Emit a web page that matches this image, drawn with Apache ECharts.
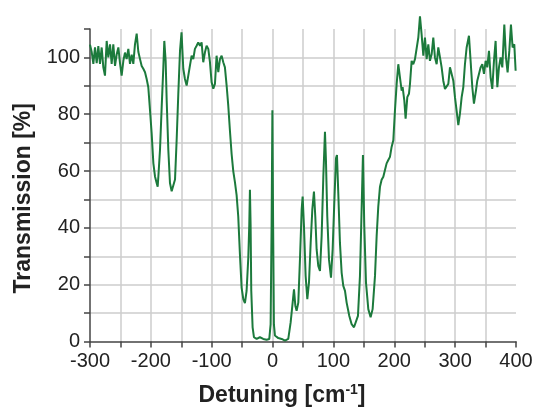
<!DOCTYPE html>
<html>
<head>
<meta charset="utf-8">
<script src="https://cdn.jsdelivr.net/npm/echarts@6/dist/echarts.min.js"></script>
<style>
html, body { margin: 0; padding: 0; background: #fff; }
#chart { width: 536px; height: 412px; }
</style>
</head>
<body>
<div id="chart"></div>
<script>
// detuning in cm^-1
var detuning = [
	-300, -297.3, -294.5, -291.8, -289, -286.3, -283.6, -280.8, -278.1, -275.4,
	-272.6, -269.9, -267.1, -264.4, -261.7, -258.9, -256.2, -253.4, -250.7, -248,
	-245.2, -242.5, -239.8, -237, -234.3, -231.5, -228.8, -226.1, -223.3, -220.6,
	-217.8, -215.1, -212.4, -209.6, -206.9, -204.2, -201.4, -198.7, -195.9, -193.2,
	-190.5, -188.8, -187.7, -185, -182.2, -179.5, -177.9, -175.7, -174, -171.3,
	-168.6, -165.8, -163.1, -160.3, -157.6, -154.9, -152.1, -149.6, -146.7, -144,
	-141.2, -138.5, -135.8, -133, -130.3, -127.6, -124.8, -122.1, -119.3, -116.6,
	-113.9, -111.1, -108.4, -105.6, -102.9, -100.2, -97.4, -94.7, -92, -89.2,
	-86.5, -83.7, -81, -78.3, -75.5, -72.8, -70, -67.3, -64.6, -61.8,
	-59.1, -56.4, -53.6, -50.9, -48.1, -45.4, -42.7, -39.9, -38.3, -37.2,
	-36.1, -35, -32.8, -30.6, -26.2, -20.8, -15.3, -9.8, -5.4, -3.2,
	-1.6, -0.3, 0.9, 2.2, 3.9, 9.4, 14.9, 20.4, 25.8, 29.7,
	33, 35.2, 37.4, 39.5, 42.3, 45, 47.8, 49.4, 51.6, 54.3,
	57.1, 59.8, 62.6, 65.3, 68, 70.2, 72.4, 75.1, 77.9, 80.6,
	83.4, 86.1, 87.7, 89.9, 92.7, 96, 98.7, 101.4, 104.2, 105.8,
	108, 110.7, 113.5, 116.2, 119, 121.7, 126.1, 129.9, 133.8, 137,
	140.3, 143.6, 146.3, 148.5, 150.7, 153.5, 157.3, 161.1, 164.4, 168.3,
	171, 173.7, 176.5, 179.2, 182, 184.7, 187.4, 190.2, 192.9, 195.6,
	198.4, 201.1, 203.9, 206.6, 209.3, 212.1, 213.7, 216.5, 218.6, 221.4,
	224.1, 225.8, 228.5, 231.2, 234, 236.7, 239.5, 242.2, 244.9, 247.7,
	250.4, 253.2, 255.9, 258.6, 261.4, 264.1, 266.8, 269.6, 272.3, 275.1,
	277.8, 280.5, 283.3, 286, 288.8, 291.5, 294.2, 297, 299.7, 302.4,
	305.2, 307.9, 310.7, 313.4, 316.1, 318.9, 322.7, 325.4, 328.2, 330.9,
	334.2, 336.4, 339.1, 341.9, 344.6, 347.4, 350.1, 352.8, 355.6, 358.3,
	361, 363.8, 366.5, 369.3, 372, 374.7, 377.5, 380.8, 383.5, 386.2,
	389, 391.7, 394.4, 397.2, 399.4
];
// transmission in %
var transmission = [
	104.5, 102, 97.7, 103.5, 98, 104, 97.7, 103.5, 96.5, 93.6,
	105.8, 100, 104.6, 97.7, 104.6, 97, 101, 103.5, 98, 93.6,
	98.8, 101.7, 99.4, 103, 97.7, 101, 97.7, 104.6, 108.4, 102,
	99.4, 97, 96, 94.8, 92.4, 89.5, 81.4, 73.3, 62.8, 58.1,
	55.8, 54.5, 58, 67.4, 82.6, 96.5, 105.8, 98.8, 84.9, 67.4,
	55.8, 52.9, 52.9, 57, 71, 87.2, 102.3, 108.8, 96, 92.4,
	90.1, 93.6, 97.1, 100.6, 99.4, 103, 104.1, 105.3, 104.1, 105.3,
	98.3, 101.8, 104.1, 103, 98.3, 91.3, 89, 90.7, 100.6, 94.8,
	99.4, 100.6, 98.3, 96.5, 90.1, 83, 74, 66, 60, 56,
	51.5, 44, 30.5, 19, 14.9, 13.5, 17.8, 29.5, 41, 53.4,
	41, 17.8, 5, 1.5, 0.9, 1.5, 0.9, 0.6, 0.9, 6,
	41, 81.4, 41, 6, 2.1, 1.2, 0.9, 0.3, 0.9, 6.7,
	13.7, 18.4, 12.6, 10.8, 13.7, 28.9, 46.4, 51, 40.6, 23.1,
	14.9, 20.7, 34.7, 46.4, 52.8, 44, 32.4, 26.6, 24.8, 37,
	58, 73.8, 63.9, 44, 28.9, 22.5, 32.4, 48.7, 64.5, 65.6,
	52.2, 34.7, 24.2, 19.6, 17.8, 13.7, 9, 6.1, 5, 5.6,
	9, 23.1, 46.4, 65.6, 40.6, 20.7, 11.4, 8.5, 11.4, 23.1,
	37, 47.5, 54.5, 56.9, 58, 60.4, 62.7, 63.9, 65, 68.5,
	70.8, 81.3, 90.7, 97.6, 93, 88.3, 89.5, 84.8, 78.4, 86,
	87.2, 90.7, 98.8, 97.6, 99.4, 98.8, 107, 114.5, 108.1, 100.6,
	107, 99.4, 104.6, 98.8, 101.1, 107, 100, 97.6, 103.5, 100,
	96.5, 91.8, 88.9, 88.3, 90.7, 96.5, 97, 91.8, 86, 81.3,
	76.2, 80.2, 86, 89.5, 97.6, 103.5, 107.6, 98.8, 89.5, 83.7,
	88.3, 91.8, 92.4, 96.5, 97.6, 94.2, 98.8, 96.5, 102.3, 93,
	88.9, 98.8, 105.8, 89.5, 96.5, 100, 96.5, 111.6, 100, 94.7,
	102.3, 111.6, 103.5, 104.6, 95.3
];

var xTicks = { min: -300, max: 400, step: 50, labelStep: 100 };
var yTicks = { min: 0, max: 110, step: 10, labelStep: 20 };

var points = [];
for (var i = 0; i < detuning.length; i++) {
	points.push([detuning[i], transmission[i]]);
}

var chart = echarts.init(document.getElementById('chart'));
var labelStyle = {
	fontFamily: 'Liberation Sans',
	fontSize: 20,
	color: '#222'
};
var gridLine = { show: true, showMaxLine: false, showMinLine: false, lineStyle: { color: '#cccccc', width: 1.5 } };
var axisLine = { show: true, onZero: false, lineStyle: { color: '#444', width: 1.5 } };
var axisTick = { show: true, inside: false, length: 6, lineStyle: { color: '#444', width: 1.5 } };

chart.setOption({
	animation: false,
	backgroundColor: '#fff',
	grid: { left: 90, right: 20, top: 29, bottom: 69 },
	xAxis: {
		type: 'value',
		min: xTicks.min,
		max: xTicks.max,
		interval: xTicks.step,
		name: 'Detuning [cm{sup|-1}]',
		nameLocation: 'middle',
		nameGap: 42,
		nameTextStyle: {
			fontFamily: 'Liberation Sans',
			fontSize: 23,
			fontWeight: 'bold',
			color: '#222',
			padding: [0, 42, 0, 0],
			rich: {
				sup: {
					fontFamily: 'Liberation Sans',
					fontSize: 14,
					fontWeight: 'bold',
					color: '#222',
					verticalAlign: 'top',
					padding: [0, 0, 10, 0]
				}
			}
		},
		axisLine: axisLine,
		axisTick: axisTick,
		axisLabel: Object.assign({
			margin: 10,
			formatter: function(v) { return v % xTicks.labelStep === 0 ? String(v) : ''; }
		}, labelStyle),
		splitLine: gridLine
	},
	yAxis: {
		type: 'value',
		min: yTicks.min,
		max: yTicks.max,
		interval: yTicks.step,
		name: 'Transmission [%]',
		nameLocation: 'middle',
		nameGap: 55,
		nameTextStyle: {
			fontFamily: 'Liberation Sans',
			fontSize: 23,
			fontWeight: 'bold',
			color: '#222',
			padding: [0, 26, 0, 0]
		},
		axisLine: axisLine,
		axisTick: axisTick,
		axisLabel: Object.assign({
			margin: 10,
			formatter: function(v) { return v % yTicks.labelStep === 0 ? String(v) : ''; }
		}, labelStyle),
		splitLine: gridLine
	},
	series: [{
		type: 'line',
		data: points,
		clip: false,
		showSymbol: false,
		smooth: false,
		lineStyle: { color: '#1c7a3c', width: 2 }
	}]
});
</script>
</body>
</html>
